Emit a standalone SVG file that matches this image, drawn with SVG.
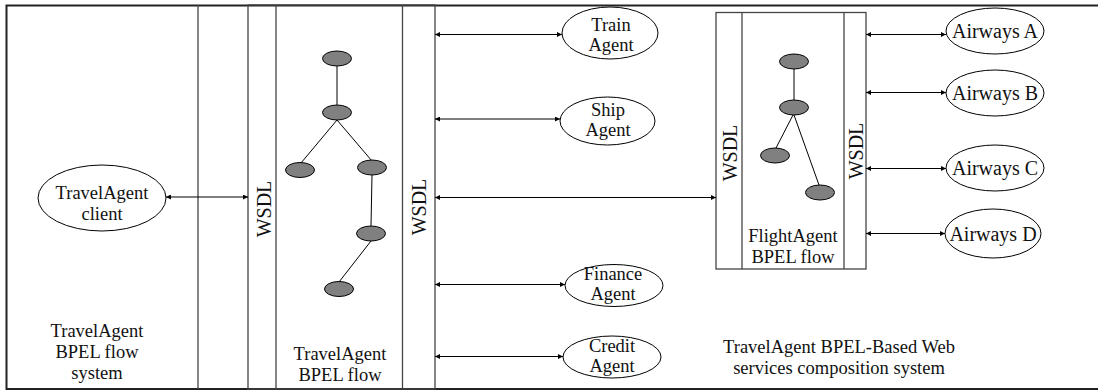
<svg xmlns="http://www.w3.org/2000/svg" width="1098" height="390" viewBox="0 0 1098 390">
<defs>
<marker id="ah" viewBox="0 0 10 10" refX="10" refY="5" markerUnits="userSpaceOnUse" markerWidth="7" markerHeight="5" orient="auto-start-reverse">
<path d="M0,0 L10,5 L0,10 z" fill="#000"/>
</marker>
<style>
text{font-family:"Liberation Serif","Times New Roman",serif;font-size:20px;fill:#111;text-anchor:middle}
text.s{font-size:18.5px}
.frame{fill:none;stroke:#222;stroke-width:2}
.col{stroke:#444;stroke-width:1.3;fill:none}
.oval{fill:#fff;stroke:#000;stroke-width:1}
.act{fill:#808080;stroke:#000;stroke-width:1}
.edge{stroke:#000;stroke-width:1;fill:none}
.arr{stroke:#000;stroke-width:1;fill:none;marker-start:url(#ah);marker-end:url(#ah)}
</style>
</defs>
<rect width="1098" height="390" fill="#fff"/>

<g id="frame">
<path class="frame" d="M1098,5.5 H6.5 V389 H1098"/>
<line class="col" x1="198" y1="5" x2="198" y2="389"/>
</g>

<g id="travelagent-system">
<text class="s" x="97" y="337">TravelAgent</text>
<text class="s" x="97" y="358">BPEL flow</text>
<text class="s" x="97" y="379">system</text>
</g>

<g id="client">
<ellipse class="oval" cx="102" cy="198" rx="64" ry="33"/>
<text class="s" x="102" y="199">TravelAgent</text>
<text class="s" x="102" y="220">client</text>
</g>

<g id="travelagent-bpel">
<rect class="col" x="248" y="5" width="187" height="384"/>
<line class="col" x1="276" y1="5" x2="276" y2="389"/>
<line class="col" x1="402.5" y1="5" x2="402.5" y2="389"/>
<text transform="translate(271,209) rotate(-90)">WSDL</text>
<text transform="translate(426,207) rotate(-90)">WSDL</text>
<line class="edge" x1="337" y1="66" x2="337" y2="105"/>
<line class="edge" x1="337" y1="120" x2="301" y2="163"/>
<line class="edge" x1="337" y1="120" x2="372" y2="161"/>
<line class="edge" x1="372" y1="175" x2="371" y2="226"/>
<line class="edge" x1="371" y1="241" x2="339" y2="282"/>
<ellipse class="act" cx="337" cy="58.5" rx="14.5" ry="7.5"/>
<ellipse class="act" cx="337" cy="112.5" rx="14.5" ry="7.5"/>
<ellipse class="act" cx="300" cy="170" rx="14.5" ry="7.5"/>
<ellipse class="act" cx="372" cy="167.5" rx="14.5" ry="7.5"/>
<ellipse class="act" cx="371" cy="233.5" rx="14.5" ry="7.5"/>
<ellipse class="act" cx="339" cy="289" rx="14.5" ry="7.5"/>
<text class="s" x="340" y="360">TravelAgent</text>
<text class="s" x="340" y="381">BPEL flow</text>
</g>

<g id="train-agent">
<ellipse class="oval" cx="610" cy="33" rx="48" ry="26"/>
<text class="s" x="611" y="31">Train</text>
<text class="s" x="611" y="51">Agent</text>
</g>

<g id="ship-agent">
<ellipse class="oval" cx="607.5" cy="121" rx="47.5" ry="24"/>
<text class="s" x="608" y="116">Ship</text>
<text class="s" x="608" y="136">Agent</text>
</g>

<g id="finance-agent">
<ellipse class="oval" cx="614" cy="285.5" rx="49" ry="21"/>
<text class="s" x="613" y="280">Finance</text>
<text class="s" x="613" y="300">Agent</text>
</g>

<g id="credit-agent">
<ellipse class="oval" cx="612" cy="357" rx="49" ry="21"/>
<text class="s" x="612" y="352">Credit</text>
<text class="s" x="612" y="372">Agent</text>
</g>

<g id="flightagent-bpel">
<rect class="col" x="716" y="12.5" width="150" height="256.5"/>
<line class="col" x1="742" y1="12.5" x2="742" y2="269"/>
<line class="col" x1="844" y1="12.5" x2="844" y2="269"/>
<text transform="translate(736.5,153) rotate(-90)">WSDL</text>
<text transform="translate(863,151) rotate(-90)">WSDL</text>
<line class="edge" x1="794" y1="69" x2="794" y2="100"/>
<line class="edge" x1="793" y1="115" x2="776" y2="148"/>
<line class="edge" x1="794" y1="115" x2="819" y2="185"/>
<ellipse class="act" cx="794" cy="61.5" rx="14.5" ry="7.5"/>
<ellipse class="act" cx="794" cy="107.5" rx="14.5" ry="7.5"/>
<ellipse class="act" cx="775" cy="155.5" rx="14.5" ry="7.5"/>
<ellipse class="act" cx="820" cy="192.5" rx="14.5" ry="7.5"/>
<text class="s" x="793" y="242">FlightAgent</text>
<text class="s" x="793" y="263">BPEL flow</text>
</g>

<g id="airways-a">
<ellipse class="oval" cx="995" cy="31" rx="49" ry="23"/>
<text x="995" y="38">Airways A</text>
</g>
<g id="airways-b">
<ellipse class="oval" cx="995" cy="93" rx="49" ry="23"/>
<text x="995" y="100">Airways B</text>
</g>
<g id="airways-c">
<ellipse class="oval" cx="995" cy="168" rx="49" ry="23"/>
<text x="995" y="175">Airways C</text>
</g>
<g id="airways-d">
<ellipse class="oval" cx="993" cy="233.5" rx="48" ry="24.5"/>
<text x="993" y="241">Airways D</text>
</g>

<g id="composition-label">
<text class="s" x="839" y="353">TravelAgent BPEL-Based Web</text>
<text class="s" x="839" y="374">services composition system</text>
</g>

<g id="connectors">
<line class="arr" x1="166" y1="197" x2="248" y2="197"/>
<line class="arr" x1="435" y1="34.5" x2="562" y2="34.5"/>
<line class="arr" x1="435" y1="119" x2="560" y2="119"/>
<line class="arr" x1="435" y1="197.5" x2="716" y2="197.5"/>
<line class="arr" x1="435" y1="284.5" x2="565" y2="284.5"/>
<line class="arr" x1="435" y1="356.5" x2="563" y2="356.5"/>
<line class="arr" x1="866" y1="34.5" x2="946" y2="34.5"/>
<line class="arr" x1="866" y1="92.5" x2="946" y2="92.5"/>
<line class="arr" x1="866" y1="168.5" x2="946" y2="168.5"/>
<line class="arr" x1="866" y1="233.5" x2="945" y2="233.5"/>
</g>
</svg>
